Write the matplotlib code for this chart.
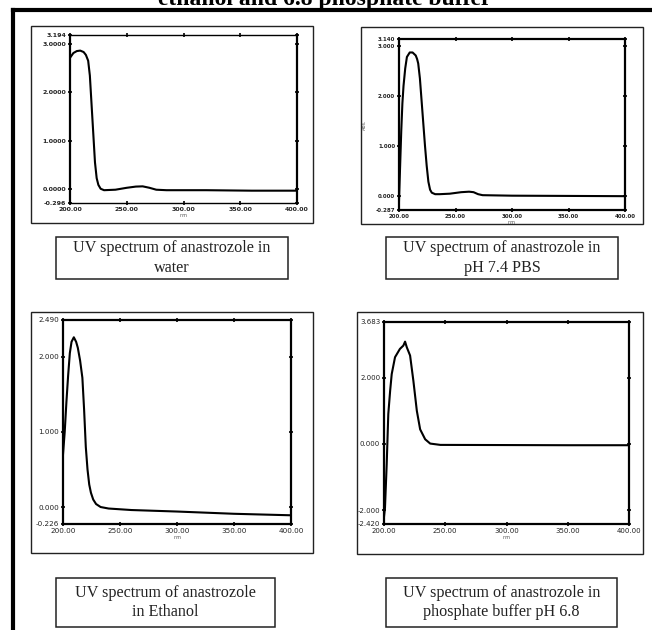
import matplotlib
matplotlib.use("Agg")
import matplotlib.pyplot as plt
from matplotlib.patches import Rectangle
from matplotlib.lines import Line2D

W, H = 652, 630

# UV spectra of anastrozole, wavelength (nm) vs absorbance
water_nm = [200, 203, 206, 209, 212, 214, 216, 217.5, 219, 220.5, 222, 223.5, 225, 227,
            230, 240, 250, 258, 264, 270, 276, 285, 320, 360, 400]
water_abs = [2.72, 2.82, 2.86, 2.87, 2.84, 2.78, 2.66, 2.35, 1.75, 1.15, 0.55, 0.22, 0.08, 0.0,
             -0.03, -0.02, 0.02, 0.045, 0.05, 0.02, -0.02, -0.03, -0.03, -0.04, -0.04]

pbs_nm = [200, 201, 202, 203, 204, 205.5, 207, 209.5, 212, 214.8, 216, 217, 218.5, 220, 221.5,
          223, 224.5, 226, 227.5, 229, 232, 236, 245, 255, 262, 266, 270, 274, 300, 350, 400]
pbs_abs = [-0.1, 0.6, 1.3, 1.85, 2.2, 2.55, 2.78, 2.87, 2.87, 2.81, 2.74, 2.65, 2.35, 1.9, 1.45,
           1.0, 0.6, 0.28, 0.12, 0.06, 0.03, 0.03, 0.04, 0.07, 0.08, 0.07, 0.03, 0.01, 0.0, -0.005, -0.01]

ethanol_nm = [200, 201.5, 203, 204.5, 206, 207.5, 209.5, 211.5, 213, 215, 217, 218.5, 220, 221.5,
              223, 224.5, 226.5, 229, 233, 240, 260, 300, 350, 400]
ethanol_abs = [0.7, 1.0, 1.4, 1.75, 2.05, 2.2, 2.26, 2.2, 2.12, 1.95, 1.72, 1.3, 0.8, 0.5,
               0.3, 0.19, 0.1, 0.04, 0.0, -0.02, -0.04, -0.06, -0.09, -0.11]

phosphate_nm = [200, 200.8, 202.2, 203.5, 205, 206.3, 209, 213, 215.8, 217.2, 218.6, 221.3, 224,
                226.8, 229.5, 233.6, 237.7, 246, 300, 350, 400]
phosphate_abs = [-2.2, -1.93, -0.62, 0.9, 1.6, 2.11, 2.62, 2.87, 2.97, 3.09, 2.92, 2.67, 1.9,
                 1.0, 0.44, 0.14, 0.01, -0.03, -0.035, -0.04, -0.04]

x_ticks = [200, 250, 300, 350, 400]
x_ticklabels = ["200.00", "250.00", "300.00", "350.00", "400.00"]

captions = ["UV spectrum of anastrozole in\nwater",
            "UV spectrum of anastrozole in\npH 7.4 PBS",
            "UV spectrum of anastrozole\nin Ethanol",
            "UV spectrum of anastrozole in\nphosphate buffer pH 6.8"]


def px_rect(l, t, r, b):
    return [l / W, 1 - b / H, (r - l) / W, (b - t) / H]


fig = plt.figure(figsize=(W / 100, H / 100), dpi=100)

# heading (runs off the top of the page) and the thick page frame
fig.text(325 / W, 1 - 5 / H, "ethanol and 6.8 phosphate buffer", ha="center", va="baseline",
         fontsize=17, fontweight="bold", family="Liberation Serif")
fig.add_artist(Line2D([13 / W, 1.0], [1 - 10 / H, 1 - 10 / H], color="black", lw=3,
                      transform=fig.transFigure, solid_capstyle="projecting"))
fig.add_artist(Line2D([13 / W, 13 / W], [1 - 10 / H, 0.0], color="black", lw=3,
                      transform=fig.transFigure, solid_capstyle="projecting"))

panel_boxes = [(31, 26, 313, 223), (361, 27, 643, 224), (31, 312, 313, 553), (357, 312, 643, 554)]
for l, t, r, b in panel_boxes:
    fig.add_artist(Rectangle((l / W, 1 - b / H), (r - l) / W, (b - t) / H, fill=False,
                             ec="#222222", lw=1.0, transform=fig.transFigure))

caption_boxes = [(56, 237, 288, 279), (386, 237, 618, 279), (56, 578, 275, 627), (386, 578, 617, 627)]
for (l, t, r, b), text in zip(caption_boxes, captions):
    fig.add_artist(Rectangle((l / W, 1 - b / H), (r - l) / W, (b - t) / H, fill=False,
                             ec="#222222", lw=1.1, transform=fig.transFigure))
    fig.text((l + r) / 2 / W, 1 - (t + b) / 2 / H, text, ha="center", va="center",
             fontsize=11.6, family="Liberation Serif", linespacing=1.3, color="#222222")

panels = [
    (px_rect(70, 35, 297, 203), water_nm, water_abs, (-0.296, 3.194),
     [-0.296, 0, 1, 2, 3, 3.194], ["-0.296", "0.0000", "1.0000", "2.0000", "3.0000", "3.194"], 4.5, "bold"),
    (px_rect(399, 39, 625, 210), pbs_nm, pbs_abs, (-0.287, 3.140),
     [-0.287, 0, 1, 2, 3, 3.140], ["-0.287", "0.000", "1.000", "2.000", "3.000", "3.140"], 4.0, "bold"),
    (px_rect(63, 320, 291, 524), ethanol_nm, ethanol_abs, (-0.226, 2.490),
     [-0.226, 0, 1, 2, 2.490], ["-0.226", "0.000", "1.000", "2.000", "2.490"], 5.2, "normal"),
    (px_rect(384, 322, 629, 524), phosphate_nm, phosphate_abs, (-2.420, 3.683),
     [-2.420, -2, 0, 2, 3.683], ["-2.420", "-2.000", "0.000", "2.000", "3.683"], 5.0, "normal"),
]

for i, (rect, nm, ab, ylim, yt, ytl, fs, fw) in enumerate(panels):
    ax = fig.add_axes(rect)
    ax.plot(nm, ab, color="black", lw=1.5)
    ax.set_xlim(200, 400)
    ax.set_ylim(*ylim)
    ax.set_xticks(x_ticks)
    ax.set_xticklabels(x_ticklabels, fontsize=fs, fontweight=fw, color="#222222")
    ax.set_yticks(yt)
    ax.set_yticklabels(ytl, fontsize=fs, fontweight=fw, color="#222222")
    ax.tick_params(axis="both", which="both", direction="inout", length=2.5, width=1.2,
                   top=True, right=True, pad=1.5)
    for side in ax.spines.values():
        side.set_linewidth(1.6)
    if i == 0:
        # the scanned water trace has fainter top and bottom frame lines
        ax.spines["top"].set_linewidth(1.0)
        ax.spines["bottom"].set_linewidth(1.0)
    ax.set_xlabel("nm", fontsize=3.5, labelpad=0.5, color="#555555")
    if i == 1:
        ax.set_ylabel("Abs.", fontsize=3.5, labelpad=6, color="#555555")

fig.savefig("out.png", dpi=100)
